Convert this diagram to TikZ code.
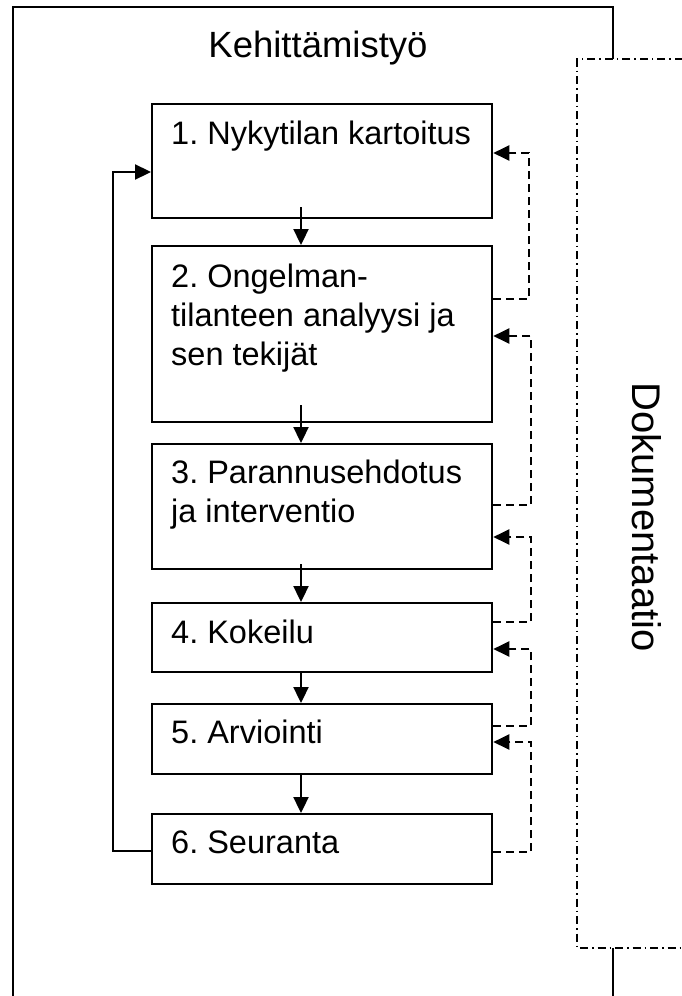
\documentclass[tikz,border=0pt]{standalone}
\usepackage{fontspec}
\setmainfont{Liberation Sans}
\usetikzlibrary{arrows.meta,calc}
\frenchspacing
\begin{document}
\begin{tikzpicture}[x=1pt,y=-1pt,
  frame/.style={draw,line width=2.3pt},
  stepbox/.style={draw,line width=2.3pt,fill=white,minimum width=340pt,anchor=north west,inner sep=0pt},
  steptext/.style={anchor=base west,inner sep=0pt,align=left,font=\fontsize{32.5}{39}\selectfont},
  flow/.style={line width=2.3pt,-{Triangle[length=16pt,width=15pt]}},
  feedback/.style={line width=2.3pt,dash pattern=on 8pt off 5pt,-{Triangle[length=16pt,width=15pt]}},
  docframe/.style={line width=2.3pt,dash pattern=on 8pt off 4pt on 1.5pt off 4pt}]
\useasboundingbox (0,0) rectangle (681,996);

% outer frame: development work
\draw[frame] (13,1010) |- (613,7) -- (613,1010);
\node[anchor=base,inner sep=0pt,font=\fontsize{36.5}{42}\selectfont] (title) at (318,57) {Kehittämistyö};

% documentation frame lying over the outer frame
\fill[white] (577,59) rectangle (700,948);
\draw[docframe] (700,59) -| (577,948) -- (700,948);
\node[anchor=base,inner sep=0pt,rotate=-90,font=\fontsize{40}{48}\selectfont] (doc) at (632,517) {Dokumentaatio};

% process steps
\node[stepbox,minimum height=114pt] (b1) at (151,103) {};
\node[stepbox,minimum height=176pt] (b2) at (151,245) {};
\node[stepbox,minimum height=125pt] (b3) at (151,443) {};
\node[stepbox,minimum height=69pt]  (b4) at (151,602) {};
\node[stepbox,minimum height=70pt]  (b5) at (151,703) {};
\node[stepbox,minimum height=70pt]  (b6) at (151,813) {};

% labels (base anchor sits on the last line)
\node[steptext] (t1) at ($(b1.north west)+(20,41)$) {1. Nykytilan kartoitus};
\node[steptext] (t2) at ($(b2.north west)+(20,120)$) {2. Ongelman-\\tilanteen analyysi ja\\sen tekijät};
\node[steptext] (t3) at ($(b3.north west)+(20,79)$) {3. Parannusehdotus\\ja interventio};
\node[steptext] (t4) at ($(b4.north west)+(20,41)$) {4. Kokeilu};
\node[steptext] (t5) at ($(b5.north west)+(20,40)$) {5. Arviointi};
\node[steptext] (t6) at ($(b6.north west)+(20,40)$) {6. Seuranta};

% forward flow
\draw[flow] ($(b1.south west)+(150,-12)$) -- ($(b2.north west)+(150,0)$);
\draw[flow] ($(b2.south west)+(150,-18)$) -- ($(b3.north west)+(150,0)$);
\draw[flow] ($(b3.south west)+(150,-6)$)  -- ($(b4.north west)+(150,0)$);
\draw[flow] ($(b4.south west)+(150,0)$)   -- ($(b5.north west)+(150,0)$);
\draw[flow] ($(b5.south west)+(150,0)$)   -- ($(b6.north west)+(150,0)$);

% loop back from follow-up to the start
\draw[flow] ($(b6.north west)+(0,38)$) -- ++(-38,0) |- ($(b1.north west)+(0,69)$);

% feedback from each step to the previous one
\draw[feedback] ($(b2.north east)+(0,54)$) -- ++(36,0) |- ($(b1.north east)+(0,50)$);
\draw[feedback] ($(b3.north east)+(0,62)$) -- ++(38,0) |- ($(b2.north east)+(0,91)$);
\draw[feedback] ($(b4.north east)+(0,20)$) -- ++(38,0) |- ($(b3.north east)+(0,94)$);
\draw[feedback] ($(b5.north east)+(0,23)$) -- ++(38,0) |- ($(b4.north east)+(0,47)$);
\draw[feedback] ($(b6.north east)+(0,39)$) -- ++(38,0) |- ($(b5.north east)+(0,39)$);
\end{tikzpicture}
\end{document}
